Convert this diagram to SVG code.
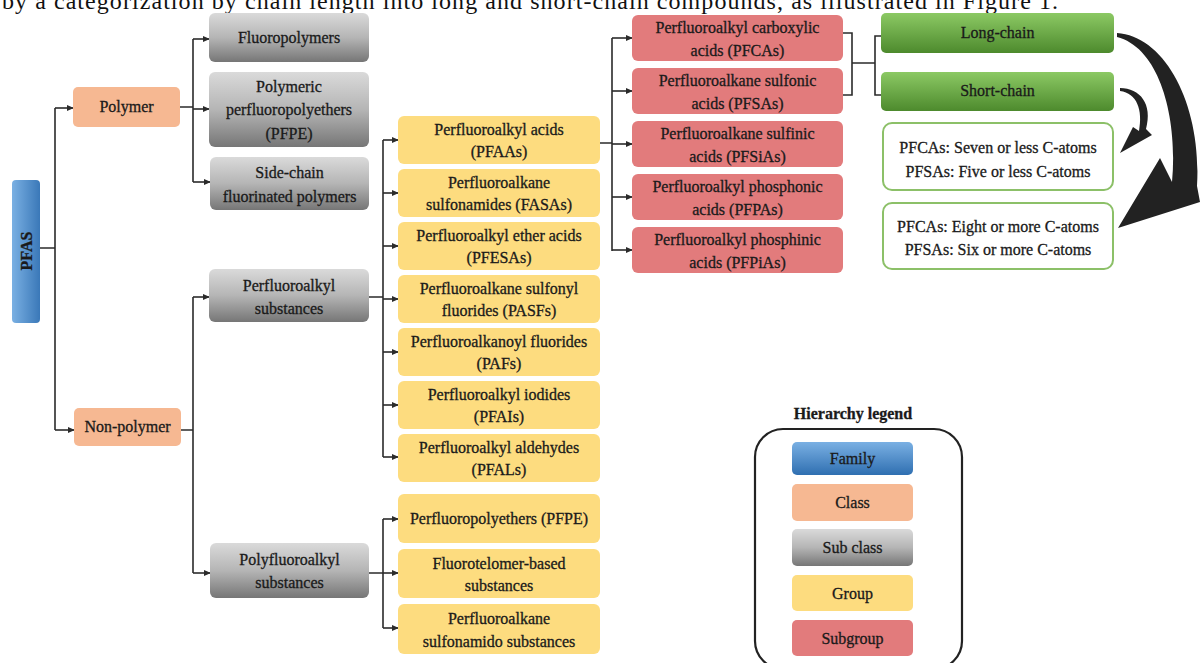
<svg xmlns="http://www.w3.org/2000/svg" width="1200" height="663" viewBox="0 0 1200 663">
<defs>
<linearGradient id="gBlue" x1="0" y1="0" x2="0" y2="1"><stop offset="0" stop-color="#7ab0e3"/><stop offset="1" stop-color="#2f6fb1"/></linearGradient>
<linearGradient id="gBlueH" x1="0" y1="0" x2="1" y2="0"><stop offset="0" stop-color="#7ab0e3"/><stop offset="1" stop-color="#3a78b8"/></linearGradient>
<linearGradient id="gGray" x1="0" y1="0" x2="0" y2="1"><stop offset="0" stop-color="#dadada"/><stop offset="0.5" stop-color="#b5b5b5"/><stop offset="1" stop-color="#767676"/></linearGradient>
<linearGradient id="gGreen" x1="0" y1="0" x2="0" y2="1"><stop offset="0" stop-color="#8cc964"/><stop offset="1" stop-color="#4d8a2d"/></linearGradient>
<marker id="arr" viewBox="0 0 8 8" refX="7" refY="4" markerWidth="7" markerHeight="7" markerUnits="userSpaceOnUse" orient="auto"><path d="M0,0.5 L8,4 L0,7.5 Z" fill="#2b2b2b"/></marker>
<style>
.t{font-family:"Liberation Serif","Times New Roman",serif;font-size:16px;fill:#1a1a1a;stroke:#1a1a1a;stroke-width:0.3;text-anchor:middle}
.b{font-weight:bold}
.fam{fill:url(#gBlue)}
.cls{fill:#f6b892}
.sub{fill:url(#gGray)}
.grp{fill:#fddc7f}
.sgp{fill:#e27b7c}
.grn{fill:url(#gGreen)}
.info{fill:#ffffff;stroke:#8cc068;stroke-width:2}
.c{fill:none;stroke:#2b2b2b;stroke-width:1.6}
.a{fill:none;stroke:#2b2b2b;stroke-width:1.6;marker-end:url(#arr)}
</style>
</defs>
<text x="2" y="9" font-family="'Liberation Serif','Times New Roman',serif" font-size="24" fill="#111" textLength="1056" lengthAdjust="spacing">by a categorization by chain length into long and short-chain compounds, as illustrated in Figure 1.</text>

<g id="connectors">
<path class="c" d="M40,248 H55 M55,108 V430"/>
<path class="a" d="M55,108 H73"/>
<path class="a" d="M55,430 H74"/>
<path class="c" d="M180,107 H193 M193,39 V182"/>
<path class="a" d="M193,39 H209"/>
<path class="a" d="M193,109 H209"/>
<path class="a" d="M193,182 H210"/>
<path class="c" d="M181,430 H193 M193,297 V573"/>
<path class="a" d="M193,297 H209"/>
<path class="a" d="M193,573 H210"/>
<path class="c" d="M369,297 H383 M383,140 V457"/>
<path class="a" d="M383,140 H398"/>
<path class="a" d="M383,193 H398"/>
<path class="a" d="M383,246 H398"/>
<path class="a" d="M383,299 H398"/>
<path class="a" d="M383,352 H398"/>
<path class="a" d="M383,405 H398"/>
<path class="a" d="M383,457 H398"/>
<path class="c" d="M369,573 H383 M383,519 V628"/>
<path class="a" d="M383,519 H398"/>
<path class="a" d="M383,573 H398"/>
<path class="a" d="M383,628 H398"/>
<path class="c" d="M600,143 H612 M612,38 V251"/>
<path class="a" d="M612,38 H632"/>
<path class="a" d="M612,91 H632"/>
<path class="a" d="M612,144 H632"/>
<path class="a" d="M612,197 H632"/>
<path class="a" d="M612,250 H632"/>
<path class="c" d="M843,33 H852 V95 H843 M852,63 H875 M881,36 H875 V95 H881"/>
<path d="M1117,33 C1165,36 1202,105 1197,186 L1200,202 L1118,228 L1160,158 L1172,182 C1178,118 1160,48 1117,37 Z" fill="#222"/>
<path d="M1120,88 C1140,88 1153,104 1146,129 L1152,135 L1120,153 L1133,127 L1139,131 C1143,110 1137,93 1120,91 Z" fill="#222"/>
</g>

<g id="n-pfas"><rect x="12" y="180" width="28" height="143" rx="4" fill="url(#gBlueH)"/><text class="t b" transform="translate(32,251) rotate(-90)" x="0" y="0">PFAS</text></g>

<g id="n-polymer"><rect class="cls" x="73" y="87" width="107" height="40" rx="5"/><text class="t" x="126.5" y="112">Polymer</text></g>
<g id="n-nonpolymer"><rect class="cls" x="74" y="408" width="107" height="38" rx="5"/><text class="t" x="127.5" y="432">Non-polymer</text></g>

<g id="n-fluoropolymers"><rect class="sub" x="209" y="13" width="160" height="49" rx="6"/><text class="t" x="289" y="43">Fluoropolymers</text></g>
<g id="n-pfpe-poly"><rect class="sub" x="209" y="72" width="160" height="75" rx="6"/><text class="t" x="289" y="92">Polymeric</text><text class="t" x="289" y="115">perfluoropolyethers</text><text class="t" x="289" y="139">(PFPE)</text></g>
<g id="n-sidechain"><rect class="sub" x="210" y="157" width="159" height="53" rx="6"/><text class="t" x="289.5" y="178">Side-chain</text><text class="t" x="289.5" y="202">fluorinated polymers</text></g>
<g id="n-perfluoroalkyl"><rect class="sub" x="209" y="269" width="160" height="53" rx="6"/><text class="t" x="289" y="291">Perfluoroalkyl</text><text class="t" x="289" y="314">substances</text></g>
<g id="n-polyfluoroalkyl"><rect class="sub" x="210" y="543" width="159" height="55" rx="6"/><text class="t" x="289.5" y="565">Polyfluoroalkyl</text><text class="t" x="289.5" y="588">substances</text></g>

<g id="n-pfaas"><rect class="grp" x="398" y="116" width="202" height="48" rx="6"/><text class="t" x="499" y="135">Perfluoroalkyl acids</text><text class="t" x="499" y="157">(PFAAs)</text></g>
<g id="n-fasas"><rect class="grp" x="398" y="169" width="202" height="48" rx="6"/><text class="t" x="499" y="188">Perfluoroalkane</text><text class="t" x="499" y="210">sulfonamides (FASAs)</text></g>
<g id="n-pfesas"><rect class="grp" x="398" y="222" width="202" height="48" rx="6"/><text class="t" x="499" y="241">Perfluoroalkyl ether acids</text><text class="t" x="499" y="263">(PFESAs)</text></g>
<g id="n-pasfs"><rect class="grp" x="398" y="275" width="202" height="48" rx="6"/><text class="t" x="499" y="294">Perfluoroalkane sulfonyl</text><text class="t" x="499" y="316">fluorides (PASFs)</text></g>
<g id="n-pafs"><rect class="grp" x="398" y="328" width="202" height="48" rx="6"/><text class="t" x="499" y="347">Perfluoroalkanoyl fluorides</text><text class="t" x="499" y="369">(PAFs)</text></g>
<g id="n-pfais"><rect class="grp" x="398" y="381" width="202" height="48" rx="6"/><text class="t" x="499" y="400">Perfluoroalkyl iodides</text><text class="t" x="499" y="422">(PFAIs)</text></g>
<g id="n-pfals"><rect class="grp" x="398" y="434" width="202" height="48" rx="6"/><text class="t" x="499" y="453">Perfluoroalkyl aldehydes</text><text class="t" x="499" y="475">(PFALs)</text></g>

<g id="n-pfpe"><rect class="grp" x="398" y="494" width="202" height="49" rx="6"/><text class="t" x="499" y="524">Perfluoropolyethers (PFPE)</text></g>
<g id="n-fluorotelomer"><rect class="grp" x="398" y="549" width="202" height="49" rx="6"/><text class="t" x="499" y="569">Fluorotelomer-based</text><text class="t" x="499" y="591">substances</text></g>
<g id="n-sulfonamido"><rect class="grp" x="398" y="604" width="202" height="50" rx="6"/><text class="t" x="499" y="624">Perfluoroalkane</text><text class="t" x="499" y="647">sulfonamido substances</text></g>

<g id="n-pfcas"><rect class="sgp" x="632" y="15" width="211" height="46" rx="6"/><text class="t" x="737.5" y="33">Perfluoroalkyl carboxylic</text><text class="t" x="737.5" y="56">acids (PFCAs)</text></g>
<g id="n-pfsas"><rect class="sgp" x="632" y="68" width="211" height="46" rx="6"/><text class="t" x="737.5" y="86">Perfluoroalkane sulfonic</text><text class="t" x="737.5" y="109">acids (PFSAs)</text></g>
<g id="n-pfsias"><rect class="sgp" x="632" y="121" width="211" height="46" rx="6"/><text class="t" x="737.5" y="139">Perfluoroalkane sulfinic</text><text class="t" x="737.5" y="162">acids (PFSiAs)</text></g>
<g id="n-pfpas"><rect class="sgp" x="632" y="174" width="211" height="46" rx="6"/><text class="t" x="737.5" y="192">Perfluoroalkyl phosphonic</text><text class="t" x="737.5" y="215">acids (PFPAs)</text></g>
<g id="n-pfpias"><rect class="sgp" x="632" y="227" width="211" height="46" rx="6"/><text class="t" x="737.5" y="245">Perfluoroalkyl phosphinic</text><text class="t" x="737.5" y="268">acids (PFPiAs)</text></g>

<g id="n-longchain"><rect class="grn" x="881" y="13" width="233" height="40" rx="5"/><text class="t" x="997.5" y="38">Long-chain</text></g>
<g id="n-shortchain"><rect class="grn" x="881" y="72" width="233" height="39" rx="5"/><text class="t" x="997.5" y="96">Short-chain</text></g>
<g id="n-short-info"><rect class="info" x="883" y="123" width="230" height="67" rx="9"/><text class="t" x="998" y="153">PFCAs: Seven or less C-atoms</text><text class="t" x="998" y="177">PFSAs: Five or less C-atoms</text></g>
<g id="n-long-info"><rect class="info" x="883" y="203" width="230" height="66" rx="9"/><text class="t" x="998" y="232">PFCAs: Eight or more C-atoms</text><text class="t" x="998" y="255">PFSAs: Six or more C-atoms</text></g>

<g id="legend">
<text class="t b" x="853" y="419" font-size="15">Hierarchy legend</text>
<rect x="755" y="429" width="207" height="240" rx="28" fill="none" stroke="#222" stroke-width="2.2"/>
<rect class="fam" x="792" y="442" width="121" height="33" rx="5"/><text class="t" x="852.5" y="464">Family</text>
<rect class="cls" x="792" y="484" width="121" height="37" rx="5"/><text class="t" x="852.5" y="508">Class</text>
<rect class="sub" x="792" y="529" width="121" height="37" rx="5"/><text class="t" x="852.5" y="553">Sub class</text>
<rect class="grp" x="792" y="575" width="121" height="36" rx="5"/><text class="t" x="852.5" y="599">Group</text>
<rect class="sgp" x="792" y="620" width="121" height="36" rx="5"/><text class="t" x="852.5" y="644">Subgroup</text>
</g>
</svg>
